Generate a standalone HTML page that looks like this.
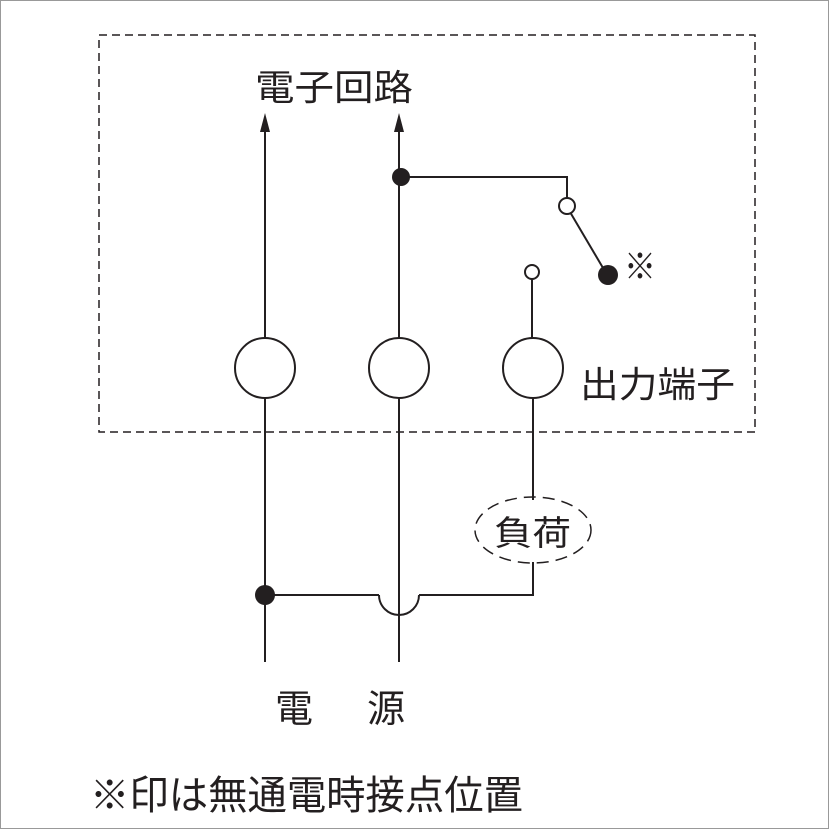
<!DOCTYPE html>
<html><head><meta charset="utf-8"><style>
html,body{margin:0;padding:0;background:#fff}
svg{display:block}
text{font-family:"Liberation Sans","Noto Sans CJK JP",sans-serif;fill:#231f20}
</style></head><body>
<svg width="829" height="829" viewBox="0 0 829 829" xmlns="http://www.w3.org/2000/svg">
<rect x="0.5" y="0.5" width="828" height="828" fill="#fff" stroke="#999" stroke-width="1"/>
<rect x="99" y="35" width="656" height="397" fill="none" stroke="#231f20" stroke-width="1.5" stroke-dasharray="8,5"/>
<g stroke="#231f20" stroke-width="2" fill="none">
<line x1="265" y1="125" x2="265" y2="338"/>
<line x1="265" y1="398" x2="265" y2="662"/>
<line x1="399" y1="125" x2="399" y2="338"/>
<line x1="399" y1="398" x2="399" y2="662"/>
<polyline points="401,177 567,177 567,199"/>
<line x1="570" y1="212" x2="606" y2="273"/>
<line x1="532" y1="279" x2="532" y2="338"/>
<line x1="533" y1="398" x2="533" y2="500"/>
<polyline points="533,562 533,595 419,595"/>
<line x1="265" y1="595" x2="379" y2="595"/>
<path d="M379,595 A20,20 0 0 0 419,595"/>
<ellipse cx="533" cy="530" rx="58" ry="33" stroke-width="1.5" stroke-dasharray="12,7"/>
<circle cx="265" cy="368" r="30" fill="#fff"/>
<circle cx="399" cy="368" r="30" fill="#fff"/>
<circle cx="533" cy="368" r="30" fill="#fff"/>
<circle cx="567" cy="206" r="8" fill="#fff"/>
<circle cx="532" cy="272" r="7" fill="#fff"/>
</g>
<g fill="#231f20">
<polygon points="265,113 260,132 270,132"/>
<polygon points="399,113 394,132 404,132"/>
<circle cx="401" cy="177" r="9"/>
<circle cx="608" cy="275" r="10"/>
<circle cx="265" cy="595" r="10"/>
</g>
<text x="255" y="100" font-size="36" textLength="158" lengthAdjust="spacingAndGlyphs">電子回路</text>
<text x="624" y="279" font-size="36" textLength="32" lengthAdjust="spacingAndGlyphs">※</text>
<text x="580" y="397" font-size="36" textLength="155" lengthAdjust="spacingAndGlyphs">出力端子</text>
<text x="494" y="545" font-size="34" textLength="77" lengthAdjust="spacingAndGlyphs">負荷</text>
<text x="275" y="722" font-size="38">電</text>
<text x="367" y="722" font-size="38">源</text>
<text x="90" y="809" font-size="40" textLength="433" lengthAdjust="spacingAndGlyphs">※印は無通電時接点位置</text>
</svg>
</body></html>
